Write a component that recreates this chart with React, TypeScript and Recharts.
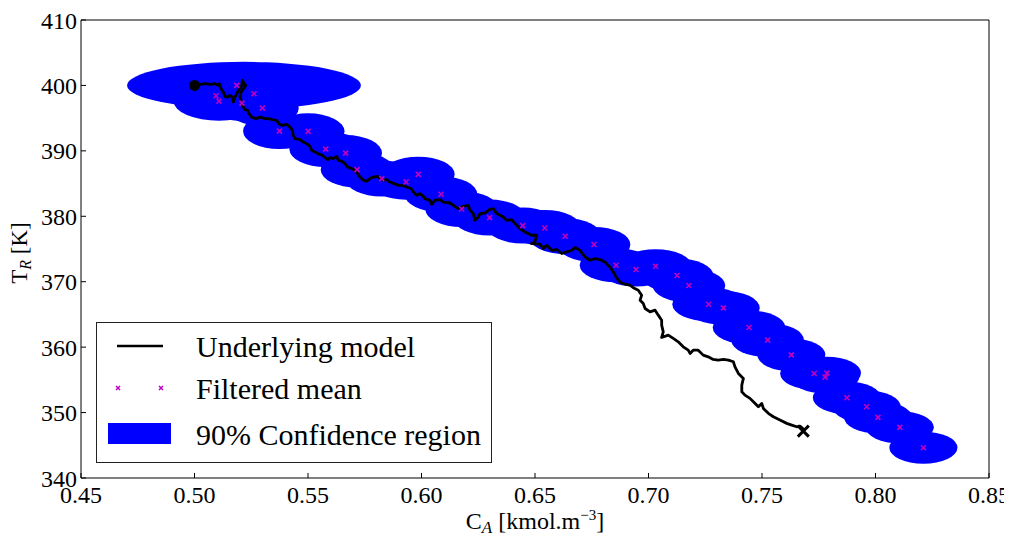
import React from 'react';
import { ComposedChart, Scatter, XAxis, YAxis, Legend } from 'recharts';

// axis ticks
const caTicks = [0.45, 0.5, 0.55, 0.6, 0.65, 0.7, 0.75, 0.8, 0.85];
const trTicks = [340, 350, 360, 370, 380, 390, 400, 410];

// underlying model trajectory (C_A, T_R)
const modelCA = [
  0.5, 0.5046, 0.5068, 0.509, 0.5105, 0.5109, 0.5117, 0.5127, 0.5134, 0.5146,
  0.5156, 0.5167, 0.5171, 0.5178, 0.5186, 0.5193, 0.5208, 0.5211, 0.5219, 0.5226,
  0.5205, 0.52, 0.5208, 0.5215, 0.5222, 0.5234, 0.524, 0.5252, 0.527, 0.5289,
  0.5311, 0.5325, 0.5343, 0.5362, 0.5372, 0.5384, 0.5406, 0.5421, 0.5431, 0.5435,
  0.5443, 0.5465, 0.5479, 0.5494, 0.5509, 0.5516, 0.5531, 0.5545, 0.5563, 0.5575,
  0.5587, 0.5597, 0.5611, 0.5626, 0.5633, 0.5648, 0.5663, 0.5675, 0.5693, 0.5707,
  0.5719, 0.5729, 0.5744, 0.5759, 0.5773, 0.5788, 0.5807, 0.5817, 0.5832, 0.5847,
  0.5861, 0.588, 0.5898, 0.5915, 0.5935, 0.5954, 0.5968, 0.5979, 0.5993, 0.6008,
  0.6015, 0.6037, 0.6045, 0.6059, 0.6082, 0.6096, 0.6126, 0.614, 0.6162, 0.6184,
  0.6206, 0.6214, 0.6228, 0.6236, 0.625, 0.6258, 0.628, 0.6299, 0.6316, 0.6331,
  0.6346, 0.636, 0.6375, 0.6397, 0.6412, 0.6434, 0.6456, 0.6485, 0.6507, 0.65,
  0.6485, 0.6522, 0.6537, 0.6552, 0.6574, 0.6596, 0.6618, 0.664, 0.6662, 0.6676,
  0.6698, 0.672, 0.6742, 0.6764, 0.6786, 0.6808, 0.683, 0.6845, 0.6857, 0.6874,
  0.6896, 0.6918, 0.6933, 0.6955, 0.697, 0.6963, 0.6977, 0.6985, 0.7007, 0.7029,
  0.7043, 0.7058, 0.7058, 0.7065, 0.7058, 0.7087, 0.7109, 0.7131, 0.7153, 0.7175,
  0.7183, 0.7197, 0.7219, 0.7241, 0.7263, 0.7285, 0.7307, 0.733, 0.7352, 0.7374,
  0.7381, 0.7396, 0.7418, 0.7411, 0.7411, 0.7425, 0.7447, 0.7462, 0.7484, 0.7499,
  0.7506, 0.7528, 0.755, 0.7579, 0.7609, 0.7631, 0.7653, 0.7667, 0.7679, 0.7682,
];
const modelTR = [
  400.0, 400.26, 400.15, 400.26, 400.0, 400.26, 399.5, 398.98, 398.32, 398.21,
  398.47, 398.21, 397.45, 398.21, 398.73, 399.24, 400.0, 400.76, 400.26, 400.0,
  398.98, 398.21, 397.45, 396.69, 396.29, 396.18, 395.68, 395.16, 394.92, 395.16,
  394.92, 394.92, 394.76, 394.66, 394.15, 393.89, 394.05, 393.63, 393.13, 392.37,
  391.86, 391.71, 391.34, 391.1, 390.69, 390.08, 389.82, 389.57, 389.31, 388.96,
  388.66, 388.96, 388.81, 389.16, 388.55, 388.44, 388.05, 387.53, 387.28, 387.02,
  386.52, 386.0, 385.5, 385.39, 385.76, 386.0, 386.11, 385.76, 385.5, 385.6,
  385.24, 384.99, 384.73, 384.73, 384.47, 384.23, 383.56, 383.21, 383.47, 383.05,
  382.7, 382.44, 381.83, 382.44, 382.55, 382.18, 382.03, 381.68, 381.18, 381.53,
  381.68, 380.92, 380.41, 379.39, 379.89, 380.41, 380.5, 381.02, 381.18, 380.41,
  380.15, 379.89, 379.39, 379.5, 378.89, 378.12, 377.6, 377.1, 377.1, 376.08,
  375.83, 375.73, 375.07, 375.57, 374.81, 374.92, 374.31, 374.55, 374.81, 375.22,
  374.81, 373.79, 373.28, 373.54, 373.39, 373.02, 372.26, 371.5, 370.73, 369.97,
  369.62, 369.47, 369.08, 368.7, 367.94, 367.18, 366.67, 365.91, 365.39, 365.65,
  364.89, 364.12, 363.36, 362.34, 361.48, 361.83, 361.33, 360.81, 360.05, 359.54,
  359.04, 359.54, 359.54, 358.78, 358.52, 358.12, 358.02, 358.12, 358.02, 357.76,
  356.99, 355.98, 355.22, 354.2, 353.18, 352.67, 352.17, 351.65, 350.89, 351.4,
  350.64, 349.88, 349.36, 348.85, 348.35, 348.09, 347.83, 347.94, 347.59, 347.17,
];

// filtered means
const meanCA = [
  0.5095, 0.5108, 0.5186, 0.5209, 0.5262, 0.5299, 0.5374, 0.5501, 0.5578, 0.5666,
  0.5716, 0.5825, 0.5932, 0.5986, 0.6086, 0.6177, 0.63, 0.6446, 0.6543, 0.6633,
  0.676, 0.6857, 0.6945, 0.7031, 0.7126, 0.7178, 0.7265, 0.733, 0.7443, 0.7525,
  0.7629, 0.773, 0.7786, 0.7778, 0.7874, 0.7961, 0.8011, 0.8107, 0.8211,
];
const meanTR = [
  398.43, 397.6, 400.0, 397.3, 398.73, 396.53, 393.02, 392.98, 390.27, 389.66,
  387.13, 385.76, 385.24, 386.41, 383.36, 381.11, 379.8, 378.58, 378.21, 376.95,
  375.68, 372.52, 371.86, 372.37, 370.95, 369.42, 366.56, 366.0, 363.0, 361.07,
  358.82, 355.98, 356.03, 355.42, 352.26, 350.89, 349.27, 347.74, 344.63,
];

// 90% confidence half-widths around each mean
const confRadCA = [
  0.02, 0.02, 0.017, 0.017, 0.016, 0.016, 0.016, 0.016, 0.016, 0.016,
  0.016, 0.016, 0.016, 0.016, 0.016, 0.016, 0.016, 0.016, 0.016, 0.016,
  0.016, 0.016, 0.016, 0.016, 0.016, 0.016, 0.016, 0.016, 0.016, 0.016,
  0.015, 0.015, 0.015, 0.015, 0.015, 0.015, 0.015, 0.015, 0.015,
];
const confRadTR = [
  3.0, 3.0, 2.7, 2.7, 2.7, 2.7, 2.75, 2.75, 2.75, 2.75,
  2.75, 2.75, 2.7, 2.7, 2.75, 2.75, 2.75, 2.75, 2.75, 2.75,
  2.7, 2.6, 2.6, 2.6, 2.6, 2.6, 2.6, 2.6, 2.6, 2.6,
  2.5, 2.5, 2.5, 2.5, 2.5, 2.5, 2.45, 2.45, 2.45,
];

// initial (prior) confidence region
const priorCA = 0.5218;
const priorTR = 400.0;
const priorRadCA = 0.0515;
const priorRadTR = 3.6;

const startPoint = [{ x: 0.5, y: 400.0 }];
const endPoint = [{ x: 0.7682, y: 347.17 }];

const modelData = modelCA.map((x, i) => ({ x, y: modelTR[i] }));
const meanData = meanCA.map((x, i) => ({ x, y: meanTR[i] }));
const ellipseData = [
  { x: priorCA, y: priorTR, rx: priorRadCA, ry: priorRadTR },
  ...meanCA.map((x, i) => ({ x, y: meanTR[i], rx: confRadCA[i], ry: confRadTR[i] })),
];

const SERIF =
  '"Liberation Serif", "DejaVu Serif", "Times New Roman", Tinos, "Nimbus Roman", "Noto Serif", FreeSerif, serif';
const CHART_W = 1004;
const CHART_H = 528;
const MARGIN = { top: 11, right: 22, left: 13, bottom: 13 };
const Y_AXIS_W = 60;
const X_AXIS_H = 45;
const PLOT_W = CHART_W - MARGIN.left - MARGIN.right - Y_AXIS_W - 1;
const PLOT_H = CHART_H - MARGIN.top - MARGIN.bottom - X_AXIS_H - 1;
const PX_PER_CA = PLOT_W / (caTicks[caTicks.length - 1] - caTicks[0]);
const PX_PER_TR = PLOT_H / (trTicks[trTicks.length - 1] - trTicks[0]);

const EllipseShape = (props: any) => {
  const { cx, cy, payload } = props;
  if (cx == null || cy == null) return <g />;
  return (
    <ellipse cx={cx} cy={cy} rx={payload.rx * PX_PER_CA} ry={payload.ry * PX_PER_TR} fill="#0000ff" />
  );
};

const MeanMarker = (props: any) => {
  const { cx, cy } = props;
  const s = 2.5;
  return (
    <path
      d={`M${cx - s},${cy - s}L${cx + s},${cy + s}M${cx - s},${cy + s}L${cx + s},${cy - s}`}
      stroke="#bf00bf"
      strokeWidth={1.6}
      fill="none"
    />
  );
};

const EndMarker = (props: any) => {
  const { cx, cy } = props;
  const s = 5.5;
  return (
    <path
      d={`M${cx - s},${cy - s}L${cx + s},${cy + s}M${cx - s},${cy + s}L${cx + s},${cy - s}`}
      stroke="#000"
      strokeWidth={3}
      fill="none"
    />
  );
};

const StartMarker = (props: any) => <circle cx={props.cx} cy={props.cy} r={5.5} fill="#000" />;

const NoShape = () => <g />;

const renderXLabel = (props: any) => {
  const vb = props.viewBox || {};
  const x = (vb.x ?? 73) + (vb.width ?? PLOT_W) / 2;
  const y = (vb.y ?? 470) + 51;
  return (
    <text x={x} y={y} textAnchor="middle" fontFamily={SERIF} fontSize={24} fill="#000">
      C<tspan dy={4} fontSize={17} fontStyle="italic">A</tspan>
      <tspan dy={-4}> [kmol.m</tspan>
      <tspan dy={-9} fontSize={15}>−3</tspan>
      <tspan dy={9}>]</tspan>
    </text>
  );
};

const renderYLabel = (props: any) => {
  const vb = props.viewBox || {};
  const cy = (vb.y ?? 12) + (vb.height ?? PLOT_H) / 2 + 4;
  const x = 19;
  return (
    <text x={x} y={cy} transform={`rotate(-90, ${x}, ${cy})`} textAnchor="middle" fontFamily={SERIF} fontSize={23} fill="#000">
      T<tspan dy={4} fontSize={16} fontStyle="italic">R</tspan>
      <tspan dy={-4}> [K]</tspan>
    </text>
  );
};

const renderLegend = () => (
  <div
    style={{
      position: 'relative',
      width: 396,
      height: 141,
      boxSizing: 'border-box',
      border: '1px solid #222',
      background: '#fff',
      fontFamily: SERIF,
      fontSize: 30,
      color: '#000',
    }}
  >
    <svg width={394} height={139} style={{ position: 'absolute', left: 0, top: 0 }}>
      <line x1={20} y1={23} x2={66} y2={23} stroke="#000" strokeWidth={2.6} />
      {[21, 64].map((mx) => (
        <path
          key={mx}
          d={`M${mx - 2},${63} L${mx + 2},${67} M${mx - 2},${67} L${mx + 2},${63}`}
          stroke="#bf00bf"
          strokeWidth={1.5}
        />
      ))}
      <rect x={11} y={100} width={63} height={21} fill="#0000ff" />
    </svg>
    {['Underlying model', 'Filtered mean', '90% Confidence region'].map((t, i) => (
      <div
        key={t}
        style={{
          position: 'absolute',
          left: 99,
          top: [9, 51, 97][i],
          lineHeight: '30px',
          whiteSpace: 'nowrap',
        }}
      >
        {t}
      </div>
    ))}
  </div>
);

export default function App() {
  const axisStyle = { stroke: '#000', strokeWidth: 1 };
  const tickStyle = { fill: '#000', fontSize: 24, fontFamily: SERIF };
  return (
    <div style={{ width: CHART_W, height: CHART_H }}>
      <ComposedChart width={CHART_W} height={CHART_H} margin={MARGIN}>
        <XAxis
          type="number"
          dataKey="x"
          domain={[0.45, 0.85]}
          ticks={caTicks}
          interval={0}
          allowDataOverflow
          tickFormatter={(v: number) => v.toFixed(2)}
          tick={tickStyle}
          tickSize={-5}
          tickMargin={13}
          height={X_AXIS_H}
          axisLine={axisStyle}
          tickLine={axisStyle}
          label={renderXLabel}
        />
        <XAxis
          xAxisId="top"
          orientation="top"
          type="number"
          dataKey="x"
          domain={[0.45, 0.85]}
          ticks={caTicks}
          interval={0}
          allowDataOverflow
          tick={false}
          tickSize={-5}
          height={1}
          axisLine={axisStyle}
          tickLine={axisStyle}
        />
        <YAxis
          type="number"
          dataKey="y"
          domain={[340, 410]}
          ticks={trTicks}
          interval={0}
          allowDataOverflow
          tick={tickStyle}
          tickSize={-5}
          tickMargin={9}
          width={Y_AXIS_W}
          axisLine={axisStyle}
          tickLine={axisStyle}
          label={renderYLabel}
        />
        <YAxis
          yAxisId="right"
          orientation="right"
          type="number"
          dataKey="y"
          domain={[340, 410]}
          ticks={trTicks}
          interval={0}
          allowDataOverflow
          tick={false}
          tickSize={-5}
          width={1}
          axisLine={axisStyle}
          tickLine={axisStyle}
        />
        <Scatter data={ellipseData} shape={EllipseShape} isAnimationActive={false} legendType="none" />
        <Scatter
          data={modelData}
          shape={NoShape}
          line={{ stroke: '#000', strokeWidth: 2.8, strokeLinejoin: 'round' }}
          lineType="joint"
          isAnimationActive={false}
          legendType="none"
        />
        <Scatter data={meanData} shape={MeanMarker} isAnimationActive={false} legendType="none" />
        <Scatter data={startPoint} shape={StartMarker} isAnimationActive={false} legendType="none" />
        <Scatter data={endPoint} shape={EndMarker} isAnimationActive={false} legendType="none" />
        <Legend
          content={renderLegend}
          layout="horizontal"
          verticalAlign="middle"
          align="center"
          wrapperStyle={{ left: 88, top: 314, width: 396, height: 141 }}
        />
      </ComposedChart>
    </div>
  );
}
